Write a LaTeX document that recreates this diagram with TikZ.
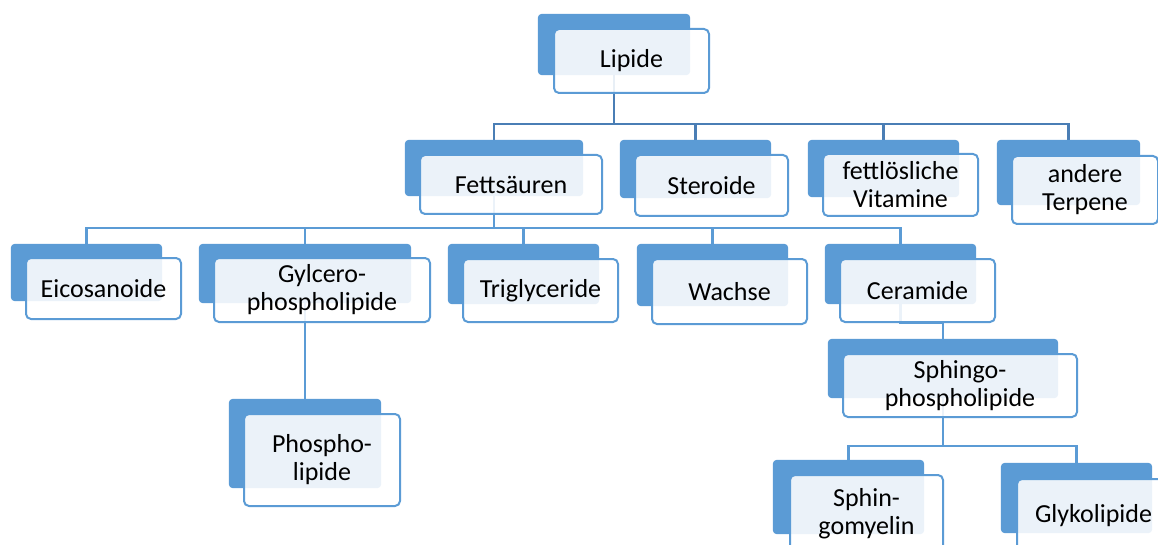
\documentclass[tikz,border=0pt]{standalone}
\usepackage{fontspec}
\setmainfont{Carlito}
\definecolor{accent}{HTML}{5B9BD5}
\definecolor{linedark}{HTML}{4A7EB5}
\newcommand{\lipfont}{\fontsize{26}{28}\selectfont}
\tikzset{
  backbox/.style={fill=accent, draw=none, rounded corners=4pt, inner sep=0pt},
  frontbox/.style={draw=accent, line width=2pt, fill=white, fill opacity=0.88, text opacity=1,
    rounded corners=5pt, align=center, font=\lipfont, inner sep=0pt, text=black},
  conA/.style={draw=linedark, line width=2.6pt},
  conB/.style={draw=accent, line width=2.3pt},
}
\begin{document}
\begin{tikzpicture}[x=1pt,y=-1pt]
\useasboundingbox (0,0) rectangle (1158,545);
\clip (0,0) rectangle (1158,545);

% back boxes (positions only, drawn later)
\path
 (614,44.5)   node[minimum width=152, minimum height=61] (lipB) {}
 (494,168)    node[minimum width=178, minimum height=56] (fetB) {}
 (695.5,169)  node[minimum width=151, minimum height=58] (steB) {}
 (883.5,168.5) node[minimum width=151, minimum height=57] (vitB) {}
 (1068.5,172.5) node[minimum width=143, minimum height=65] (terB) {}
 (86.5,272.5) node[minimum width=151, minimum height=57] (eicB) {}
 (305,273.5)  node[minimum width=212, minimum height=59] (glyB) {}
 (523.5,274)  node[minimum width=151, minimum height=60] (triB) {}
 (712.5,275)  node[minimum width=151, minimum height=62] (wacB) {}
 (900.5,274)  node[minimum width=151, minimum height=60] (cerB) {}
 (943,368.5)  node[minimum width=230, minimum height=59] (sphB) {}
 (305,443.5)  node[minimum width=152, minimum height=89] (phoB) {}
 (848.5,497)  node[minimum width=151, minimum height=74] (smyB) {}
 (1076.5,498) node[minimum width=151, minimum height=70] (gklB) {};

% connectors
\coordinate (barA) at (614,124);
\draw[conA] (lipB.south) -- (barA);
\draw[conA] (barA) -| (fetB.north);
\draw[conA] (barA) -| (steB.north);
\draw[conA] (barA) -| (vitB.north);
\draw[conA] (barA) -| (terB.north);

\coordinate (barB) at (494,228);
\draw[conB] (fetB.south) -- (barB);
\draw[conB] (barB) -| (eicB.north);
\draw[conB] (barB) -| (glyB.north);
\draw[conB] (barB) -| (triB.north);
\draw[conB] (barB) -| (wacB.north);
\draw[conB] (barB) -| (cerB.north);

\draw[conB] (glyB.south) -- (phoB.north);

\coordinate (barC) at (900.5,323);
\draw[conB] (cerB.south) -- (barC) -| (sphB.north);

\coordinate (barD) at (943,446);
\draw[conB] (sphB.south) -- (barD);
\draw[conB] (barD) -| (smyB.north);
\draw[conB] (barD) -| (gklB.north);

% back boxes
\foreach \n in {lipB,fetB,steB,vitB,terB,eicB,glyB,triB,wacB,cerB,sphB,phoB,smyB,gklB}
  \fill[accent, rounded corners=4pt] (\n.north west) rectangle (\n.south east);

% front boxes
\node[frontbox, minimum width=155, minimum height=64] (lipF) at (631.5,61) {Lipide};
\node[frontbox, minimum width=182, minimum height=59] (fetF) at (511,184.5) {Fettsäuren};
\node[frontbox, minimum width=153, minimum height=61] (steF) at (711.5,185.5) {Steroide};
\node[frontbox, minimum width=155, minimum height=62] (vitF) at (900.5,185) {fettlösliche\\Vitamine};
\node[frontbox, minimum width=146, minimum height=68] (terF) at (1085,190) {andere\\Terpene};
\node[frontbox, minimum width=155, minimum height=61] (eicF) at (103.5,288.5) {Eicosanoide};
\node[frontbox, minimum width=216, minimum height=64] (glyF) at (322,290) {Gylcero-\\phospholipide};
\node[frontbox, minimum width=155, minimum height=63] (triF) at (540.5,290.5) {Triglyceride};
\node[frontbox, minimum width=155, minimum height=65] (wacF) at (729.5,291.5) {Wachse};
\node[frontbox, minimum width=155, minimum height=63] (cerF) at (917.5,290.5) {Ceramide};
\node[frontbox, minimum width=234, minimum height=63] (sphF) at (960,385.5) {Sphingo-\\phospholipide};
\node[frontbox, minimum width=156, minimum height=92] (phoF) at (322,460) {Phospho-\\lipide};
\node[frontbox, minimum width=153, minimum height=78] (smyF) at (866.5,514) {Sphin-\\gomyelin};
\node[frontbox, minimum width=153, minimum height=73] (gklF) at (1093.5,515.5) {Glykolipide};
\end{tikzpicture}
\end{document}
